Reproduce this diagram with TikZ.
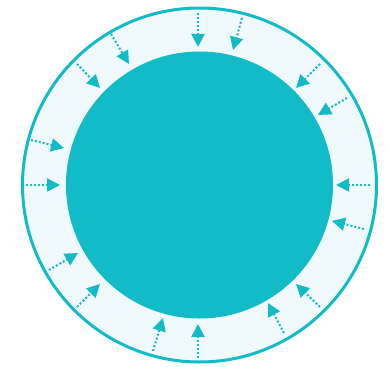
\documentclass[tikz,border=0pt]{standalone}
\usetikzlibrary{arrows.meta}
\definecolor{teal}{HTML}{12BBC8}
\definecolor{ringfill}{HTML}{F0F9FB}
\begin{document}
\begin{tikzpicture}[x=1pt,y=-1pt,
  inflow/.style={teal, line width=2pt, dash pattern=on 2pt off 2pt,
    -{Triangle[length=13pt,width=13pt]}}]
\useasboundingbox (0,0) rectangle (390,366);
\node[circle, draw=teal, line width=3pt, fill=ringfill, minimum size=354pt, inner sep=0pt] (ring) at (199.5,185) {};
\node[circle, fill=teal, minimum size=267pt, inner sep=0pt] (core) at (199.5,185) {};
\foreach \i/\tx/\ty/\hx/\hy in {
  1/198/13/198/47, 2/242/18/233/50, 3/111/34/129/64, 4/77/64/100/88,
  5/320/64/296/88, 6/347/98/318/115, 7/31/140/64/148, 8/26/185/60/185,
  9/370/185/336/185, 10/364/229/332/221, 11/49/270/78/253, 12/77/307/100/284,
  13/320/307/296/284, 14/284/333/268/303, 15/153/351/163/318, 16/198/358/198/324}{
  \coordinate (t\i) at (\tx,\ty);
  \coordinate (h\i) at (\hx,\hy);
  \draw[inflow] (t\i) -- (h\i);
}
\end{tikzpicture}
\end{document}
